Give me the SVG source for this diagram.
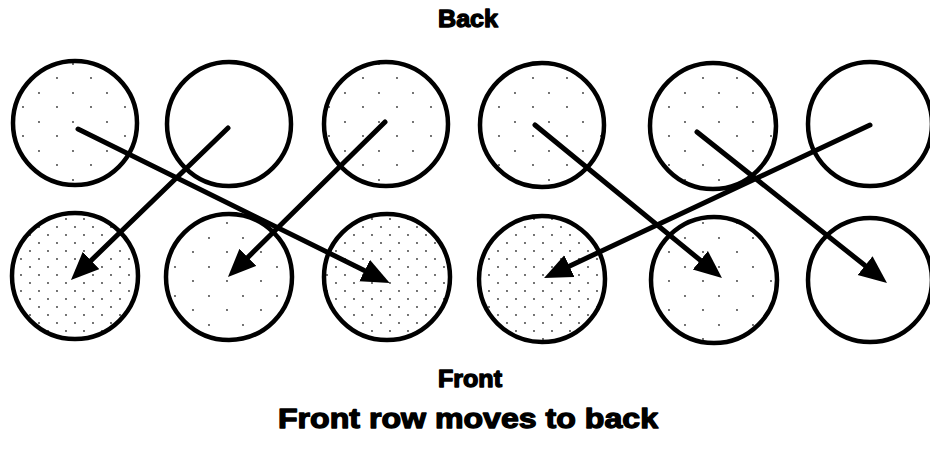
<svg xmlns="http://www.w3.org/2000/svg" width="930" height="457" viewBox="0 0 930 457">
<style>
.c{fill:#fff;stroke:#000;stroke-width:4.5}
.cd{fill:url(#dense);stroke:#000;stroke-width:4.5}
.cs{fill:url(#sparse);stroke:#000;stroke-width:4.5}
.a{fill:none;stroke:#000;stroke-width:5;stroke-linecap:round;marker-end:url(#ah)}
.t{font-family:"Liberation Sans",Arial,sans-serif;font-weight:bold;fill:#000;stroke:#000;stroke-width:1.3;stroke-linejoin:round;text-anchor:middle}
</style>
<defs>
<pattern id="dense" width="18" height="16" patternUnits="userSpaceOnUse">
<rect width="18" height="16" fill="#fff"/>
<circle cx="3" cy="3" r="0.9" fill="#333"/>
<circle cx="12" cy="11" r="0.9" fill="#333"/>
</pattern>
<pattern id="sparse" width="34" height="29" patternUnits="userSpaceOnUse">
<rect width="34" height="29" fill="#fff"/>
<circle cx="5" cy="6" r="0.9" fill="#333"/>
<circle cx="23" cy="20" r="0.9" fill="#333"/>
</pattern>
<marker id="ah" markerUnits="userSpaceOnUse" markerWidth="32" markerHeight="26" refX="16" refY="12" orient="auto">
<path d="M0,0 L28,12 L0,24 z" fill="#000"/>
</marker>
</defs>
<g id="n1"><circle class="cs" cx="75" cy="123" r="62"/></g>
<g id="n2"><circle class="c" cx="229" cy="124" r="62"/></g>
<g id="n3"><circle class="cs" cx="386" cy="124" r="62"/></g>
<g id="n4"><circle class="cd" cx="75" cy="276" r="63"/></g>
<g id="n5"><circle class="cs" cx="229" cy="277" r="63"/></g>
<g id="n6"><circle class="cd" cx="387" cy="277" r="63"/></g>
<g id="n7"><circle class="cs" cx="542" cy="125" r="62"/></g>
<g id="n8"><circle class="cs" cx="713" cy="126" r="63"/></g>
<g id="n9"><circle class="c" cx="870" cy="124" r="62"/></g>
<g id="n10"><circle class="cd" cx="542" cy="279" r="63"/></g>
<g id="n11"><circle class="cs" cx="714" cy="280" r="63"/></g>
<g id="n12"><circle class="c" cx="870" cy="280" r="62"/></g>
<g id="connectors">
<line class="a" x1="78" y1="129" x2="379" y2="277.7"/>
<line class="a" x1="228" y1="128" x2="79.6" y2="271.6"/>
<line class="a" x1="385" y1="122" x2="236.5" y2="268.6"/>
<line class="a" x1="535" y1="125" x2="712.7" y2="270.4"/>
<line class="a" x1="697" y1="132" x2="877.6" y2="275.5"/>
<line class="a" x1="870" y1="125" x2="554.9" y2="272.9"/>
</g>
<text class="t" x="468" y="27" font-size="24" textLength="60" lengthAdjust="spacingAndGlyphs">Back</text>
<text class="t" x="470" y="387" font-size="23" textLength="64" lengthAdjust="spacingAndGlyphs">Front</text>
<text class="t" x="468" y="428" font-size="28" textLength="380" lengthAdjust="spacingAndGlyphs">Front row moves to back</text>
</svg>
